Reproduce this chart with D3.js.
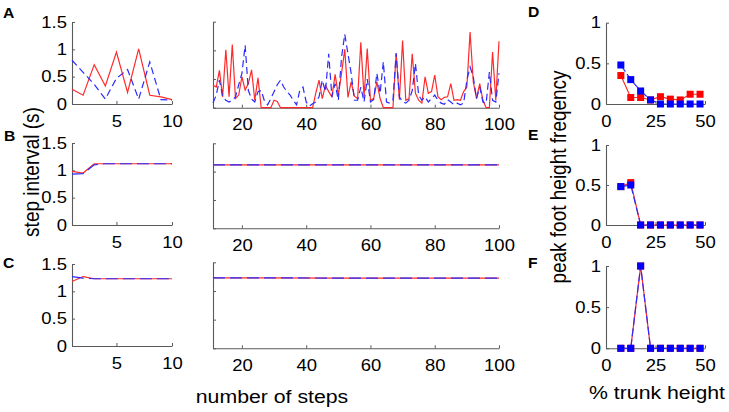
<!DOCTYPE html>
<html>
<head>
<meta charset="utf-8">
<script src="https://cdnjs.cloudflare.com/ajax/libs/d3/7.8.5/d3.min.js"></script>
<style>
	body { margin: 0; background: #fff; }
	svg { display: block; font-family: "Liberation Sans", Arial, sans-serif; }
</style>
</head>
<body>
<div class="chart"></div>
<script>
/*---------------------------DATA--------------------------*/

var stepsShort = [1, 2, 3, 4, 5, 6, 7, 8, 9, 10];
var stepsLong = d3.range(11, 101);
var stepsFlat = [11, 52, 100];
var trunkPct = [7.5, 12.5, 17.5, 22.5, 27.5, 32.5, 37.5, 42.5, 47.5];

// A: step interval, first 10 steps and steps 11..100
var aRedShort = [0.27, 0.16, 0.72, 0.33, 0.95, 0.21, 1.01, 0.16, 0.13, 0.08];
var aBlueShort = [0.80, 0.58, 0.36, 0.09, 0.47, 0.63, 0.09, 0.77, 0.08, 0.07];
var aRedLong = [
	0.39, 0.36, 0.65, 0.19, 1.01, 0.19, 1.10, 0.16, 0.22, 0.54,
	0.31, 0.42, 0.66, 0.13, 0.52, 0, 0, 0, 0, 0.13,
	0.11, 0, 0, 0, 0, 0, 0, 0, 0, 0,
	0, 0, 0.26, 0.48, 0.16, 0.39, 0.28, 0.19, 0.58, 0.22,
	0.60, 1.02, 0.18, 0.45, 0.20, 0.16, 1.14, 0.19, 1.03, 0.13,
	0.16, 0.45, 0.16, 0, 0, 0, 0, 0.95, 0.14, 1.17,
	0.13, 0.16, 0.94, 0.25, 0.13, 0.08, 0.54, 0.25, 0.28, 0.57,
	0.19, 0.14, 0.18, 0.19, 0.42, 0.13, 0.14, 0.13, 0.28, 0.36,
	1.32, 0.45, 0.16, 0.42, 0.13, 0, 0, 0.97, 0.13, 1.16
];
var aBlueLong = [
	0.08, 0.22, 0.48, 0.19, 0.13, 0.10, 0.13, 0.19, 0.40, 0.60,
	1.09, 0.30, 0.15, 0.10, 0.28, 0.30, 0.12, 0.05, 0.16, 0.28,
	0.40, 0.48, 0.36, 0.28, 0.22, 0.13, 0.05, 0.30, 0.36, 0.10,
	0.03, 0.07, 0.10, 0.19, 0.48, 0.28, 0.94, 0.19, 0.42, 0.13,
	0.88, 1.28, 0.94, 0.60, 0.13, 0.13, 0.36, 0.10, 0.50, 0.10,
	0.14, 0.60, 0.25, 0.80, 0.10, 0.08, 0.13, 0.95, 0.19, 0.10,
	0.08, 0.13, 0.30, 0.77, 0.22, 0.13, 0.19, 0.10, 0.16, 0.22,
	0.13, 0.08, 0.06, 0.14, 0.10, 0.05, 0.08, 0.05, 0.08, 0.48,
	0.71, 0.54, 0.16, 0.36, 0.10, 0.08, 0.62, 0.13, 0.10, 0.60
];

// B and C
var bRedShort = [0.98, 0.95, 1.12, 1.12, 1.12, 1.12, 1.12, 1.12, 1.12, 1.12];
var bBlueShort = [0.93, 0.94, 1.10, 1.12, 1.12, 1.12, 1.12, 1.12, 1.12, 1.12];
var bRedFlat = [1.12, 1.12, 1.12];
var bBlueFlat = [1.12, 1.12, 1.12];
var cRedShort = [1.18, 1.27, 1.23, 1.23, 1.23, 1.23, 1.23, 1.23, 1.23, 1.23];
var cBlueShort = [1.27, 1.24, 1.23, 1.23, 1.23, 1.23, 1.23, 1.23, 1.23, 1.23];
var cRedFlat = [1.23, 1.225, 1.225];
var cBlueFlat = [1.23, 1.225, 1.225];

// D, E, F: peak foot height frequency
var dRed = [0.35, 0.08, 0.08, 0.05, 0.09, 0.06, 0.05, 0.12, 0.12];
var dBlue = [0.48, 0.30, 0.16, 0.05, 0, 0, 0, 0, 0];
var eRed = [0.48, 0.53, 0, 0, 0, 0, 0, 0, 0];
var eBlue = [0.48, 0.50, 0, 0, 0, 0, 0, 0, 0];
var fRed = [0, 0, 1, 0, 0, 0, 0, 0, 0];
var fBlue = [0, 0, 1, 0, 0, 0, 0, 0, 0];

var intervalTicks = [0, 0.5, 1, 1.5];
var freqTicks = [0, 0.5, 1];
var shortTicks = [5, 10];
var longTicks = [20, 40, 60, 80, 100];
var pctTicks = [0, 25, 50];

/*---------------------------SETUP--------------------------*/

var w = 729;
var h = 412;
var stretch = 1.12; // the figure is a bit wider than tall
var red = '#ff2b2b';
var blue = '#2b2bff';

var svg = d3.select('.chart').append('svg')
	.attr('width', w)
	.attr('height', h);

var fmt = function(d){ return d; };

var label = function(x, y, str, size, anchor, rotate, weight){
	svg.append('text')
		.attr('transform', 'translate(' + x + ',' + y + ') scale(' + stretch + ',1)' + (rotate ? ' rotate(-90)' : ''))
		.attr('text-anchor', anchor)
		.style('font-size', size + 'px')
		.style('font-weight', weight || 'normal')
		.text(str);
};

var panel = function(xRange, yRange, xDomain, yDomain, xTicks, yTicks, yLabels){
	var x = d3.scaleLinear().domain(xDomain).range(xRange);
	var y = d3.scaleLinear().domain(yDomain).range(yRange);
	var g = svg.append('g');

	var xAxis = g.append('g')
		.attr('transform', 'translate(0,' + yRange[0] + ')')
		.call(d3.axisBottom(x).tickValues(xTicks).tickFormat(fmt)
			.tickSizeInner(-3).tickSizeOuter(0).tickPadding(11));

	var yAxis = g.append('g')
		.attr('transform', 'translate(' + xRange[0] + ',0)')
		.call(d3.axisLeft(y).tickValues(yTicks).tickFormat(yLabels ? fmt : '')
			.tickSizeInner(-3).tickSizeOuter(0).tickPadding(5));

	[xAxis, yAxis].forEach(function(a){
		a.attr('font-size', null).attr('font-family', null).attr('color', '#5a5a5a');
		a.select('.domain').attr('stroke-width', 1.1);
		a.selectAll('.tick text')
			.attr('fill', '#000')
			.style('font-size', '16.5px')
			.attr('transform', 'scale(' + stretch + ',1)')
			.attr('x', function(){ return (+this.getAttribute('x') || 0) / stretch; });
	});

	return {g: g, x: x, y: y};
};

var line = function(p, xs, ys, color, dash){
	var gen = d3.line()
		.x(function(d, i){ return p.x(xs[i]); })
		.y(function(d){ return p.y(d); });
	p.g.append('path')
		.datum(ys)
		.attr('d', gen)
		.attr('fill', 'none')
		.attr('stroke', color)
		.attr('stroke-width', 1.2)
		.attr('stroke-dasharray', dash || null);
};

var squares = function(p, xs, ys, color){
	p.g.selectAll(null).data(ys).enter()
		.append('rect')
		.attr('x', function(d, i){ return p.x(xs[i]) - 3.5; })
		.attr('y', function(d){ return p.y(d) - 3.5; })
		.attr('width', 7)
		.attr('height', 7)
		.attr('fill', color);
};

/*---------------------------STEP INTERVAL PANELS--------------------------*/

var shortX = [72, 172];
var longX = [213, 499];
var shortRows = [[104, 22], [225, 143], [346, 264]];
var longRows = [[107.7, 21.7], [228.3, 143.3], [348.3, 262.3]];

var aShort = panel(shortX, shortRows[0], [1, 10], [0, 1.5], shortTicks, intervalTicks, true);
line(aShort, stepsShort, aRedShort, red);
line(aShort, stepsShort, aBlueShort, blue, '7,4');

var aLong = panel(longX, longRows[0], [11, 100], [0, 1.5], longTicks, intervalTicks, false);
line(aLong, stepsLong, aRedLong, red);
line(aLong, stepsLong, aBlueLong, blue, '7,4');

var bShort = panel(shortX, shortRows[1], [1, 10], [0, 1.5], shortTicks, intervalTicks, true);
line(bShort, stepsShort, bRedShort, red);
line(bShort, stepsShort, bBlueShort, blue, '12,5');

var bLong = panel(longX, longRows[1], [11, 100], [0, 1.5], longTicks, intervalTicks, false);
line(bLong, stepsFlat, bRedFlat, red);
line(bLong, stepsFlat, bBlueFlat, blue, '12,5');

var cShort = panel(shortX, shortRows[2], [1, 10], [0, 1.5], shortTicks, intervalTicks, true);
line(cShort, stepsShort, cRedShort, red);
line(cShort, stepsShort, cBlueShort, blue, '12,5');

var cLong = panel(longX, longRows[2], [11, 100], [0, 1.5], longTicks, intervalTicks, false);
line(cLong, stepsFlat, cRedFlat, red);
line(cLong, stepsFlat, cBlueFlat, blue, '12,5');

/*---------------------------FOOT HEIGHT PANELS--------------------------*/

var pctX = [606, 705];
var pctRows = [[104, 22.7], [225, 145], [348.3, 266]];
var freqSets = [[dRed, dBlue], [eRed, eBlue], [fRed, fBlue]];

freqSets.forEach(function(set, i){
	var p = panel(pctX, pctRows[i], [0, 50], [0, 1], pctTicks, freqTicks, true);
	line(p, trunkPct, set[0], red);
	squares(p, trunkPct, set[0], '#f00');
	line(p, trunkPct, set[1], blue, '8,3');
	squares(p, trunkPct, set[1], '#00f');
});

/*---------------------------LABELS--------------------------*/

label(3, 18, 'A', 14, 'start', false, 'bold');
label(4, 141, 'B', 14, 'start', false, 'bold');
label(3, 268, 'C', 14, 'start', false, 'bold');
label(528, 17, 'D', 14, 'start', false, 'bold');
label(528, 140, 'E', 14, 'start', false, 'bold');
label(528, 268, 'F', 14, 'start', false, 'bold');

label(38.5, 172, 'step interval (s)', 19, 'middle', true);
label(566, 177, 'peak foot height freqency', 19, 'middle', true);
label(272, 403, 'number of steps', 19, 'middle', false);
label(657, 399, '% trunk height', 19, 'middle', false);
</script>
</body>
</html>
